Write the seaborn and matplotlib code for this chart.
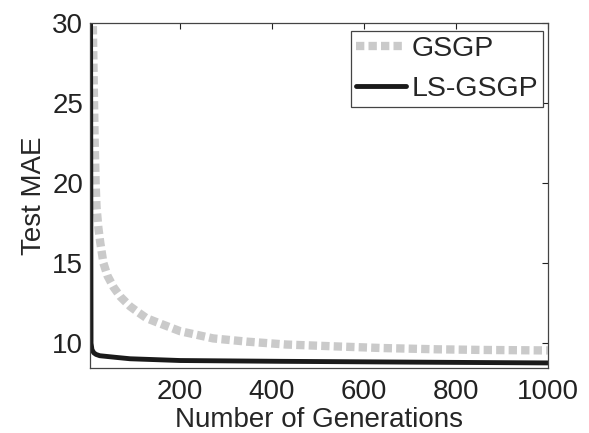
import matplotlib
matplotlib.use("Agg")
import matplotlib.pyplot as plt
import seaborn as sns
import pandas as pd

# values
gsgp_gen = [10, 12, 14, 16, 18, 22, 26, 33, 42, 55, 70, 91, 110, 127, 150, 200,
            272, 345, 430, 540, 640, 760, 860, 1000]
gsgp_mae = [29.8, 26.0, 22.5, 20.0, 18.5, 17.2, 16.3, 15.0, 14.2, 13.5, 12.9, 12.3,
            11.9, 11.56, 11.3, 10.75, 10.3, 10.1, 9.92, 9.8, 9.7, 9.62, 9.58, 9.55]

ls_gen = [5, 6, 8, 12, 17, 25, 59, 91, 200, 420, 700, 1000]
ls_mae = [30.0, 10.0, 9.6, 9.4, 9.3, 9.22, 9.12, 9.03, 8.92, 8.87, 8.82, 8.77]

xticks = [200, 400, 600, 800, 1000]
yticks = [10, 15, 20, 25, 30]

sns.set_style("white")
plt.rcParams["font.family"] = ["Liberation Sans", "DejaVu Sans"]

gsgp = pd.DataFrame({"gen": gsgp_gen, "mae": gsgp_mae})
ls = pd.DataFrame({"gen": ls_gen, "mae": ls_mae})

fig = plt.figure(figsize=(5.89, 4.33), dpi=100)
ax = fig.add_axes([0.153, 0.150, 0.777, 0.797])

sns.lineplot(data=gsgp, x="gen", y="mae", ax=ax, color="#cacaca", linewidth=6,
             linestyle=(0, (1.0, 0.5)), label="GSGP")
sns.lineplot(data=ls, x="gen", y="mae", ax=ax, color="#1a1a1a", linewidth=3.5,
             label="LS-GSGP")

ax.set_xlim(4, 1000)
ax.set_ylim(8.45, 30)
ax.set_xticks(xticks)
ax.set_yticks(yticks)
ax.tick_params(direction="in", length=4, width=0.8, labelsize=20, colors="#222222",
               top=True, right=True)
ax.tick_params(axis="x", pad=8)
ax.tick_params(axis="y", pad=5)
for s in ax.spines.values():
    s.set_color("#444444")
    s.set_linewidth(0.9)
ax.set_xlabel("Number of Generations", fontsize=20, labelpad=1)
ax.set_ylabel("Test MAE", fontsize=20, labelpad=4)

leg = ax.legend(loc="upper right", bbox_to_anchor=(0.989, 0.977), borderaxespad=0,
                fontsize=20.5, handlelength=1.75, handletextpad=0.2, labelspacing=0.5,
                borderpad=0.17, fancybox=False, framealpha=1)
leg.get_frame().set_edgecolor("#444444")
leg.get_frame().set_linewidth(0.9)

fig.savefig("out.png", dpi=100)
